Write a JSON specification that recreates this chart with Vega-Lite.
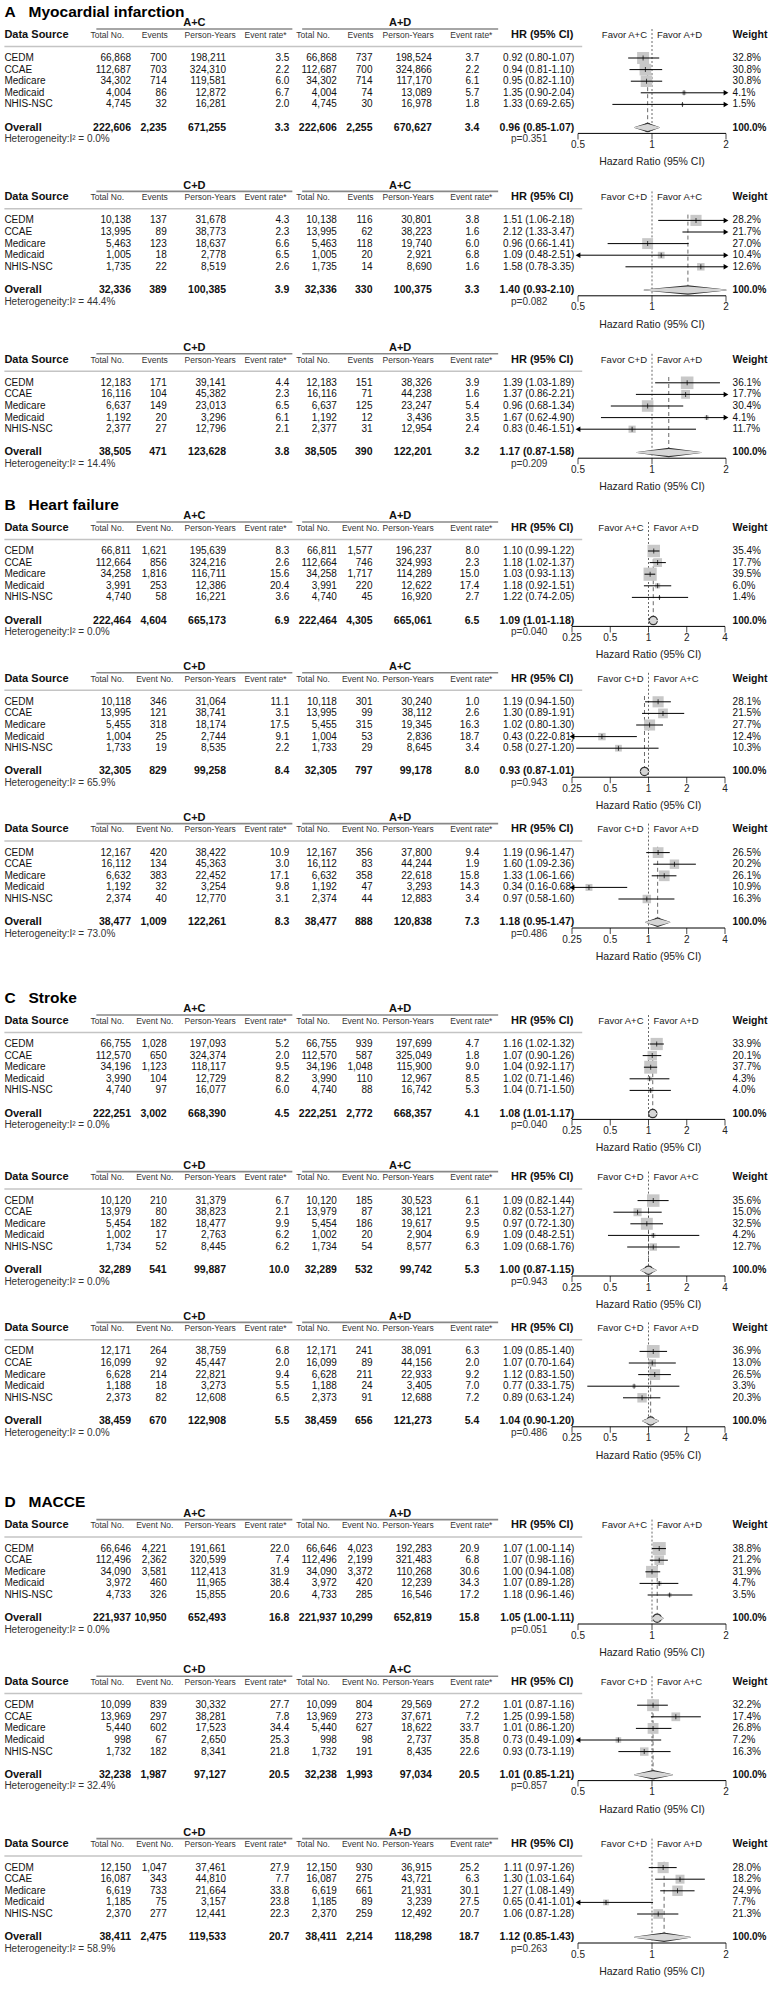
{
"$schema":"https://vega.github.io/schema/vega-lite/v6.json",
"padding":0,
"background":"white",
"width":769,
"height":1985,
"config":{"view":{"stroke":null},"axis":{"disable":true},"text":{"font":"Liberation Sans, Arial, sans-serif","fontSize":10,"color":"#111"}},
"datasets":{
"all":[
{"p":"A1","g1":"A+C","g2":"A+D","i2":0,"pv":0.351,"ev":"Events","tk":[0.5,1,2],"ttl":"A\u00a0\u00a0 Myocardial infarction"},
{"p":"A2","g1":"C+D","g2":"A+C","i2":44.4,"pv":0.082,"ev":"Events","tk":[0.5,1,2]},
{"p":"A3","g1":"C+D","g2":"A+D","i2":14.4,"pv":0.209,"ev":"Events","tk":[0.5,1,2]},
{"p":"B1","g1":"A+C","g2":"A+D","i2":0,"pv":0.04,"ev":"Event No.","tk":[0.25,0.5,1,2,4],"ttl":"B\u00a0\u00a0 Heart failure"},
{"p":"B2","g1":"C+D","g2":"A+C","i2":65.9,"pv":0.943,"ev":"Event No.","tk":[0.25,0.5,1,2,4]},
{"p":"B3","g1":"C+D","g2":"A+D","i2":73.0,"pv":0.486,"ev":"Event No.","tk":[0.25,0.5,1,2,4]},
{"p":"C1","g1":"A+C","g2":"A+D","i2":0,"pv":0.04,"ev":"Event No.","tk":[0.25,0.5,1,2,4],"ttl":"C\u00a0\u00a0 Stroke"},
{"p":"C2","g1":"C+D","g2":"A+C","i2":0,"pv":0.943,"ev":"Event No.","tk":[0.25,0.5,1,2,4]},
{"p":"C3","g1":"C+D","g2":"A+D","i2":0,"pv":0.486,"ev":"Event No.","tk":[0.25,0.5,1,2,4]},
{"p":"D1","g1":"A+C","g2":"A+D","i2":0,"pv":0.051,"ev":"Event No.","tk":[0.5,1,2],"ttl":"D\u00a0\u00a0 MACCE"},
{"p":"D2","g1":"C+D","g2":"A+C","i2":32.4,"pv":0.857,"ev":"Event No.","tk":[0.5,1,2]},
{"p":"D3","g1":"C+D","g2":"A+D","i2":58.9,"pv":0.263,"ev":"Event No.","tk":[0.5,1,2]},
{"p":"A1","s":"CEDM","t1":66868,"e1":700,"y1":198211,"r1":3.5,"t2":66868,"e2":737,"y2":198524,"r2":3.7,"hr":0.92,"lo":0.8,"hi":1.07,"w":0.328},
{"p":"A1","s":"CCAE","t1":112687,"e1":703,"y1":324310,"r1":2.2,"t2":112687,"e2":700,"y2":324866,"r2":2.2,"hr":0.94,"lo":0.81,"hi":1.1,"w":0.308},
{"p":"A1","s":"Medicare","t1":34302,"e1":714,"y1":119581,"r1":6.0,"t2":34302,"e2":714,"y2":117170,"r2":6.1,"hr":0.95,"lo":0.82,"hi":1.1,"w":0.308},
{"p":"A1","s":"Medicaid","t1":4004,"e1":86,"y1":12872,"r1":6.7,"t2":4004,"e2":74,"y2":13089,"r2":5.7,"hr":1.35,"lo":0.9,"hi":2.04,"w":0.041},
{"p":"A1","s":"NHIS-NSC","t1":4745,"e1":32,"y1":16281,"r1":2.0,"t2":4745,"e2":30,"y2":16978,"r2":1.8,"hr":1.33,"lo":0.69,"hi":2.65,"w":0.015},
{"p":"A1","s":"Overall","t1":222606,"e1":2235,"y1":671255,"r1":3.3,"t2":222606,"e2":2255,"y2":670627,"r2":3.4,"hr":0.96,"lo":0.85,"hi":1.07,"w":1},
{"p":"A2","s":"CEDM","t1":10138,"e1":137,"y1":31678,"r1":4.3,"t2":10138,"e2":116,"y2":30801,"r2":3.8,"hr":1.51,"lo":1.06,"hi":2.18,"w":0.282},
{"p":"A2","s":"CCAE","t1":13995,"e1":89,"y1":38773,"r1":2.3,"t2":13995,"e2":62,"y2":38223,"r2":1.6,"hr":2.12,"lo":1.33,"hi":3.47,"w":0.217},
{"p":"A2","s":"Medicare","t1":5463,"e1":123,"y1":18637,"r1":6.6,"t2":5463,"e2":118,"y2":19740,"r2":6.0,"hr":0.96,"lo":0.66,"hi":1.41,"w":0.27},
{"p":"A2","s":"Medicaid","t1":1005,"e1":18,"y1":2778,"r1":6.5,"t2":1005,"e2":20,"y2":2921,"r2":6.8,"hr":1.09,"lo":0.48,"hi":2.51,"w":0.104},
{"p":"A2","s":"NHIS-NSC","t1":1735,"e1":22,"y1":8519,"r1":2.6,"t2":1735,"e2":14,"y2":8690,"r2":1.6,"hr":1.58,"lo":0.78,"hi":3.35,"w":0.126},
{"p":"A2","s":"Overall","t1":32336,"e1":389,"y1":100385,"r1":3.9,"t2":32336,"e2":330,"y2":100375,"r2":3.3,"hr":1.4,"lo":0.93,"hi":2.1,"w":1},
{"p":"A3","s":"CEDM","t1":12183,"e1":171,"y1":39141,"r1":4.4,"t2":12183,"e2":151,"y2":38326,"r2":3.9,"hr":1.39,"lo":1.03,"hi":1.89,"w":0.361},
{"p":"A3","s":"CCAE","t1":16116,"e1":104,"y1":45382,"r1":2.3,"t2":16116,"e2":71,"y2":44238,"r2":1.6,"hr":1.37,"lo":0.86,"hi":2.21,"w":0.177},
{"p":"A3","s":"Medicare","t1":6637,"e1":149,"y1":23013,"r1":6.5,"t2":6637,"e2":125,"y2":23247,"r2":5.4,"hr":0.96,"lo":0.68,"hi":1.34,"w":0.304},
{"p":"A3","s":"Medicaid","t1":1192,"e1":20,"y1":3296,"r1":6.1,"t2":1192,"e2":12,"y2":3436,"r2":3.5,"hr":1.67,"lo":0.62,"hi":4.9,"w":0.041},
{"p":"A3","s":"NHIS-NSC","t1":2377,"e1":27,"y1":12796,"r1":2.1,"t2":2377,"e2":31,"y2":12954,"r2":2.4,"hr":0.83,"lo":0.46,"hi":1.51,"w":0.117},
{"p":"A3","s":"Overall","t1":38505,"e1":471,"y1":123628,"r1":3.8,"t2":38505,"e2":390,"y2":122201,"r2":3.2,"hr":1.17,"lo":0.87,"hi":1.58,"w":1},
{"p":"B1","s":"CEDM","t1":66811,"e1":1621,"y1":195639,"r1":8.3,"t2":66811,"e2":1577,"y2":196237,"r2":8.0,"hr":1.1,"lo":0.99,"hi":1.22,"w":0.354},
{"p":"B1","s":"CCAE","t1":112664,"e1":856,"y1":324216,"r1":2.6,"t2":112664,"e2":746,"y2":324993,"r2":2.3,"hr":1.18,"lo":1.02,"hi":1.37,"w":0.177},
{"p":"B1","s":"Medicare","t1":34258,"e1":1816,"y1":116711,"r1":15.6,"t2":34258,"e2":1717,"y2":114289,"r2":15.0,"hr":1.03,"lo":0.93,"hi":1.13,"w":0.395},
{"p":"B1","s":"Medicaid","t1":3991,"e1":253,"y1":12386,"r1":20.4,"t2":3991,"e2":220,"y2":12622,"r2":17.4,"hr":1.18,"lo":0.92,"hi":1.51,"w":0.06},
{"p":"B1","s":"NHIS-NSC","t1":4740,"e1":58,"y1":16221,"r1":3.6,"t2":4740,"e2":45,"y2":16920,"r2":2.7,"hr":1.22,"lo":0.74,"hi":2.05,"w":0.014},
{"p":"B1","s":"Overall","t1":222464,"e1":4604,"y1":665173,"r1":6.9,"t2":222464,"e2":4305,"y2":665061,"r2":6.5,"hr":1.09,"lo":1.01,"hi":1.18,"w":1},
{"p":"B2","s":"CEDM","t1":10118,"e1":346,"y1":31064,"r1":11.1,"t2":10118,"e2":301,"y2":30240,"r2":1.0,"hr":1.19,"lo":0.94,"hi":1.5,"w":0.281},
{"p":"B2","s":"CCAE","t1":13995,"e1":121,"y1":38741,"r1":3.1,"t2":13995,"e2":99,"y2":38112,"r2":2.6,"hr":1.3,"lo":0.89,"hi":1.91,"w":0.215},
{"p":"B2","s":"Medicare","t1":5455,"e1":318,"y1":18174,"r1":17.5,"t2":5455,"e2":315,"y2":19345,"r2":16.3,"hr":1.02,"lo":0.8,"hi":1.3,"w":0.277},
{"p":"B2","s":"Medicaid","t1":1004,"e1":25,"y1":2744,"r1":9.1,"t2":1004,"e2":53,"y2":2836,"r2":18.7,"hr":0.43,"lo":0.22,"hi":0.81,"w":0.124},
{"p":"B2","s":"NHIS-NSC","t1":1733,"e1":19,"y1":8535,"r1":2.2,"t2":1733,"e2":29,"y2":8645,"r2":3.4,"hr":0.58,"lo":0.27,"hi":1.2,"w":0.103},
{"p":"B2","s":"Overall","t1":32305,"e1":829,"y1":99258,"r1":8.4,"t2":32305,"e2":797,"y2":99178,"r2":8.0,"hr":0.93,"lo":0.87,"hi":1.01,"w":1},
{"p":"B3","s":"CEDM","t1":12167,"e1":420,"y1":38422,"r1":10.9,"t2":12167,"e2":356,"y2":37800,"r2":9.4,"hr":1.19,"lo":0.96,"hi":1.47,"w":0.265},
{"p":"B3","s":"CCAE","t1":16112,"e1":134,"y1":45363,"r1":3.0,"t2":16112,"e2":83,"y2":44244,"r2":1.9,"hr":1.6,"lo":1.09,"hi":2.36,"w":0.202},
{"p":"B3","s":"Medicare","t1":6632,"e1":383,"y1":22452,"r1":17.1,"t2":6632,"e2":358,"y2":22618,"r2":15.8,"hr":1.33,"lo":1.06,"hi":1.66,"w":0.261},
{"p":"B3","s":"Medicaid","t1":1192,"e1":32,"y1":3254,"r1":9.8,"t2":1192,"e2":47,"y2":3293,"r2":14.3,"hr":0.34,"lo":0.16,"hi":0.68,"w":0.109},
{"p":"B3","s":"NHIS-NSC","t1":2374,"e1":40,"y1":12770,"r1":3.1,"t2":2374,"e2":44,"y2":12883,"r2":3.4,"hr":0.97,"lo":0.58,"hi":1.6,"w":0.163},
{"p":"B3","s":"Overall","t1":38477,"e1":1009,"y1":122261,"r1":8.3,"t2":38477,"e2":888,"y2":120838,"r2":7.3,"hr":1.18,"lo":0.95,"hi":1.47,"w":1},
{"p":"C1","s":"CEDM","t1":66755,"e1":1028,"y1":197093,"r1":5.2,"t2":66755,"e2":939,"y2":197699,"r2":4.7,"hr":1.16,"lo":1.02,"hi":1.32,"w":0.339},
{"p":"C1","s":"CCAE","t1":112570,"e1":650,"y1":324374,"r1":2.0,"t2":112570,"e2":587,"y2":325049,"r2":1.8,"hr":1.07,"lo":0.9,"hi":1.26,"w":0.201},
{"p":"C1","s":"Medicare","t1":34196,"e1":1123,"y1":118117,"r1":9.5,"t2":34196,"e2":1048,"y2":115900,"r2":9.0,"hr":1.04,"lo":0.92,"hi":1.17,"w":0.377},
{"p":"C1","s":"Medicaid","t1":3990,"e1":104,"y1":12729,"r1":8.2,"t2":3990,"e2":110,"y2":12967,"r2":8.5,"hr":1.02,"lo":0.71,"hi":1.46,"w":0.043},
{"p":"C1","s":"NHIS-NSC","t1":4740,"e1":97,"y1":16077,"r1":6.0,"t2":4740,"e2":88,"y2":16742,"r2":5.3,"hr":1.04,"lo":0.71,"hi":1.5,"w":0.04},
{"p":"C1","s":"Overall","t1":222251,"e1":3002,"y1":668390,"r1":4.5,"t2":222251,"e2":2772,"y2":668357,"r2":4.1,"hr":1.08,"lo":1.01,"hi":1.17,"w":1},
{"p":"C2","s":"CEDM","t1":10120,"e1":210,"y1":31379,"r1":6.7,"t2":10120,"e2":185,"y2":30523,"r2":6.1,"hr":1.09,"lo":0.82,"hi":1.44,"w":0.356},
{"p":"C2","s":"CCAE","t1":13979,"e1":80,"y1":38823,"r1":2.1,"t2":13979,"e2":87,"y2":38121,"r2":2.3,"hr":0.82,"lo":0.53,"hi":1.27,"w":0.15},
{"p":"C2","s":"Medicare","t1":5454,"e1":182,"y1":18477,"r1":9.9,"t2":5454,"e2":186,"y2":19617,"r2":9.5,"hr":0.97,"lo":0.72,"hi":1.3,"w":0.325},
{"p":"C2","s":"Medicaid","t1":1002,"e1":17,"y1":2763,"r1":6.2,"t2":1002,"e2":20,"y2":2904,"r2":6.9,"hr":1.09,"lo":0.48,"hi":2.51,"w":0.042},
{"p":"C2","s":"NHIS-NSC","t1":1734,"e1":52,"y1":8445,"r1":6.2,"t2":1734,"e2":54,"y2":8577,"r2":6.3,"hr":1.09,"lo":0.68,"hi":1.76,"w":0.127},
{"p":"C2","s":"Overall","t1":32289,"e1":541,"y1":99887,"r1":10.0,"t2":32289,"e2":532,"y2":99742,"r2":5.3,"hr":1.0,"lo":0.87,"hi":1.15,"w":1},
{"p":"C3","s":"CEDM","t1":12171,"e1":264,"y1":38759,"r1":6.8,"t2":12171,"e2":241,"y2":38091,"r2":6.3,"hr":1.09,"lo":0.85,"hi":1.4,"w":0.369},
{"p":"C3","s":"CCAE","t1":16099,"e1":92,"y1":45447,"r1":2.0,"t2":16099,"e2":89,"y2":44156,"r2":2.0,"hr":1.07,"lo":0.7,"hi":1.64,"w":0.13},
{"p":"C3","s":"Medicare","t1":6628,"e1":214,"y1":22821,"r1":9.4,"t2":6628,"e2":211,"y2":22933,"r2":9.2,"hr":1.12,"lo":0.83,"hi":1.5,"w":0.265},
{"p":"C3","s":"Medicaid","t1":1188,"e1":18,"y1":3273,"r1":5.5,"t2":1188,"e2":24,"y2":3405,"r2":7.0,"hr":0.77,"lo":0.33,"hi":1.75,"w":0.033},
{"p":"C3","s":"NHIS-NSC","t1":2373,"e1":82,"y1":12608,"r1":6.5,"t2":2373,"e2":91,"y2":12688,"r2":7.2,"hr":0.89,"lo":0.63,"hi":1.24,"w":0.203},
{"p":"C3","s":"Overall","t1":38459,"e1":670,"y1":122908,"r1":5.5,"t2":38459,"e2":656,"y2":121273,"r2":5.4,"hr":1.04,"lo":0.9,"hi":1.2,"w":1},
{"p":"D1","s":"CEDM","t1":66646,"e1":4221,"y1":191661,"r1":22.0,"t2":66646,"e2":4023,"y2":192283,"r2":20.9,"hr":1.07,"lo":1.0,"hi":1.14,"w":0.388},
{"p":"D1","s":"CCAE","t1":112496,"e1":2362,"y1":320599,"r1":7.4,"t2":112496,"e2":2199,"y2":321483,"r2":6.8,"hr":1.07,"lo":0.98,"hi":1.16,"w":0.212},
{"p":"D1","s":"Medicare","t1":34090,"e1":3581,"y1":112413,"r1":31.9,"t2":34090,"e2":3372,"y2":110268,"r2":30.6,"hr":1.0,"lo":0.94,"hi":1.08,"w":0.319},
{"p":"D1","s":"Medicaid","t1":3972,"e1":460,"y1":11965,"r1":38.4,"t2":3972,"e2":420,"y2":12239,"r2":34.3,"hr":1.07,"lo":0.89,"hi":1.28,"w":0.047},
{"p":"D1","s":"NHIS-NSC","t1":4733,"e1":326,"y1":15855,"r1":20.6,"t2":4733,"e2":285,"y2":16546,"r2":17.2,"hr":1.18,"lo":0.96,"hi":1.46,"w":0.035},
{"p":"D1","s":"Overall","t1":221937,"e1":10950,"y1":652493,"r1":16.8,"t2":221937,"e2":10299,"y2":652819,"r2":15.8,"hr":1.05,"lo":1.0,"hi":1.11,"w":1},
{"p":"D2","s":"CEDM","t1":10099,"e1":839,"y1":30332,"r1":27.7,"t2":10099,"e2":804,"y2":29569,"r2":27.2,"hr":1.01,"lo":0.87,"hi":1.16,"w":0.322},
{"p":"D2","s":"CCAE","t1":13969,"e1":297,"y1":38281,"r1":7.8,"t2":13969,"e2":273,"y2":37671,"r2":7.2,"hr":1.25,"lo":0.99,"hi":1.58,"w":0.174},
{"p":"D2","s":"Medicare","t1":5440,"e1":602,"y1":17523,"r1":34.4,"t2":5440,"e2":627,"y2":18622,"r2":33.7,"hr":1.01,"lo":0.86,"hi":1.2,"w":0.268},
{"p":"D2","s":"Medicaid","t1":998,"e1":67,"y1":2650,"r1":25.3,"t2":998,"e2":98,"y2":2737,"r2":35.8,"hr":0.73,"lo":0.49,"hi":1.09,"w":0.072},
{"p":"D2","s":"NHIS-NSC","t1":1732,"e1":182,"y1":8341,"r1":21.8,"t2":1732,"e2":191,"y2":8435,"r2":22.6,"hr":0.93,"lo":0.73,"hi":1.19,"w":0.163},
{"p":"D2","s":"Overall","t1":32238,"e1":1987,"y1":97127,"r1":20.5,"t2":32238,"e2":1993,"y2":97034,"r2":20.5,"hr":1.01,"lo":0.85,"hi":1.21,"w":1},
{"p":"D3","s":"CEDM","t1":12150,"e1":1047,"y1":37461,"r1":27.9,"t2":12150,"e2":930,"y2":36915,"r2":25.2,"hr":1.11,"lo":0.97,"hi":1.26,"w":0.28},
{"p":"D3","s":"CCAE","t1":16087,"e1":343,"y1":44810,"r1":7.7,"t2":16087,"e2":275,"y2":43721,"r2":6.3,"hr":1.3,"lo":1.03,"hi":1.64,"w":0.182},
{"p":"D3","s":"Medicare","t1":6619,"e1":733,"y1":21664,"r1":33.8,"t2":6619,"e2":661,"y2":21931,"r2":30.1,"hr":1.27,"lo":1.08,"hi":1.49,"w":0.249},
{"p":"D3","s":"Medicaid","t1":1185,"e1":75,"y1":3157,"r1":23.8,"t2":1185,"e2":89,"y2":3239,"r2":27.5,"hr":0.65,"lo":0.41,"hi":1.01,"w":0.077},
{"p":"D3","s":"NHIS-NSC","t1":2370,"e1":277,"y1":12441,"r1":22.3,"t2":2370,"e2":259,"y2":12492,"r2":20.7,"hr":1.06,"lo":0.87,"hi":1.28,"w":0.213},
{"p":"D3","s":"Overall","t1":38411,"e1":2475,"y1":119533,"r1":20.7,"t2":38411,"e2":2214,"y2":118298,"r2":18.7,"hr":1.12,"lo":0.85,"hi":1.43,"w":1}
]},
"data":{"name":"all"},
"resolve":{"scale":{"x":"independent"}},
"layer":[
{"layer":[
{"transform":[{"filter":"datum.ttl"},{"calculate":"datum.p+'|ttl'","as":"yk"}],"mark":{"type":"text","align":"left","fontSize":15.5,"fontWeight":"bold","color":"#000"},"encoding":{"x":{"datum":"_0","scale":{"type":"point","padding":0,"range":[4.4,732.6],"domain":["_0","_1","_2","_3","_4","_5","_6","_7","_8","_9","_10","_11","_12","_13","_14","_15","t1","_17","_18","_19","e1","_21","_22","_23","g1","_25","_26","_27","y1","_29","_30","_31","_32","_33","_34","_35","r1","_37","_38","_39","_40","_41","t2","_43","_44","_45","e2","_47","_48","_49","g2","_51","_52","_53","y2","_55","_56","_57","_58","_59","r2","_61","_62","_63","_64","_65","_66","_67","_68","_69","_70","_71","_72","_73","_74","_75","_76","_77","_78","_79","_80","_81","_82","_83","_84","_85","_86","_87","_88","_89","_90","_91","_92"]}},"y":{"field":"yk","type":"nominal","scale":{"type":"point","padding":0,"range":[0,1972],"domain":[
"_0","_1","A1|ttl","_3","A1|grp","A1|ul","A1|hdr","_7","A1|sep","A1|top",
"A1|CEDM","_11","A1|CCAE","_13","A1|Medicare","_15","A1|Medicaid","_17","A1|NHIS-NSC","_19",
"_20","_21","A1|Overall","A1|ax","A1|Het","A1|tk","_26","_27","A1|hrt","_29",
"_30","_31","A2|grp","A2|ul","A2|hdr","_35","A2|sep","A2|top","A2|CEDM","_39",
"A2|CCAE","_41","A2|Medicare","_43","A2|Medicaid","_45","A2|NHIS-NSC","_47","_48","_49",
"A2|Overall","A2|ax","A2|Het","A2|tk","_54","_55","A2|hrt","_57","_58","_59",
"A3|grp","A3|ul","A3|hdr","_63","A3|sep","A3|top","A3|CEDM","_67","A3|CCAE","_69",
"A3|Medicare","_71","A3|Medicaid","_73","A3|NHIS-NSC","_75","_76","_77","A3|Overall","A3|ax",
"A3|Het","A3|tk","_82","_83","A3|hrt","_85","_86","B1|ttl","_88","B1|grp",
"B1|ul","B1|hdr","_92","B1|sep","B1|top","B1|CEDM","_96","B1|CCAE","_98","B1|Medicare",
"_100","B1|Medicaid","_102","B1|NHIS-NSC","_104","_105","_106","B1|Overall","B1|ax","B1|Het",
"B1|tk","_111","_112","B1|hrt","_114","B2|grp","B2|ul","B2|hdr","_118","B2|sep",
"B2|top","B2|CEDM","_122","B2|CCAE","_124","B2|Medicare","_126","B2|Medicaid","_128","B2|NHIS-NSC",
"_130","_131","_132","B2|Overall","B2|ax","B2|Het","B2|tk","_137","_138","B2|hrt",
"_140","B3|grp","B3|ul","B3|hdr","_144","B3|sep","B3|top","B3|CEDM","_148","B3|CCAE",
"_150","B3|Medicare","_152","B3|Medicaid","_154","B3|NHIS-NSC","_156","_157","_158","B3|Overall",
"B3|ax","B3|Het","B3|tk","_163","_164","B3|hrt","_166","_167","_168","_169",
"_170","_171","C1|ttl","_173","C1|grp","C1|ul","C1|hdr","_177","C1|sep","C1|top",
"C1|CEDM","_181","C1|CCAE","_183","C1|Medicare","_185","C1|Medicaid","_187","C1|NHIS-NSC","_189",
"_190","_191","C1|Overall","C1|ax","C1|Het","C1|tk","_196","_197","C1|hrt","_199",
"_200","C2|grp","C2|ul","C2|hdr","_204","C2|sep","C2|top","C2|CEDM","_208","C2|CCAE",
"_210","C2|Medicare","_212","C2|Medicaid","_214","C2|NHIS-NSC","_216","_217","_218","C2|Overall",
"C2|ax","C2|Het","C2|tk","_223","_224","C2|hrt","_226","C3|grp","C3|ul","C3|hdr",
"_230","C3|sep","C3|top","C3|CEDM","_234","C3|CCAE","_236","C3|Medicare","_238","C3|Medicaid",
"_240","C3|NHIS-NSC","_242","_243","_244","C3|Overall","C3|ax","C3|Het","C3|tk","_249",
"_250","C3|hrt","_252","_253","_254","_255","_256","_257","_258","D1|ttl",
"_260","D1|grp","D1|ul","D1|hdr","_264","D1|sep","D1|top","D1|CEDM","_268","D1|CCAE",
"_270","D1|Medicare","_272","D1|Medicaid","_274","D1|NHIS-NSC","_276","_277","_278","D1|Overall",
"D1|ax","D1|Het","D1|tk","_283","_284","D1|hrt","_286","_287","D2|grp","D2|ul",
"D2|hdr","_291","D2|sep","D2|top","D2|CEDM","_295","D2|CCAE","_297","D2|Medicare","_299",
"D2|Medicaid","_301","D2|NHIS-NSC","_303","_304","_305","D2|Overall","D2|ax","D2|Het","D2|tk",
"_310","_311","D2|hrt","_313","_314","_315","D3|grp","D3|ul","D3|hdr","_319",
"D3|sep","D3|top","D3|CEDM","_323","D3|CCAE","_325","D3|Medicare","_327","D3|Medicaid","_329",
"D3|NHIS-NSC","_331","_332","_333","D3|Overall","D3|ax","D3|Het","D3|tk","_338","_339",
"D3|hrt"]}},"text":{"field":"ttl"}}},
{"transform":[{"filter":"datum.g1"},{"fold":["g1","g2"]},{"calculate":"datum.p+'|grp'","as":"yk"},{"calculate":"datum.p+'|ul'","as":"yu"}],"layer":[
{"mark":{"type":"text","fontWeight":"bold","fontSize":11},"encoding":{"x":{"field":"key","type":"nominal"},"y":{"field":"yk","type":"nominal"},"text":{"field":"value"}}},
{"mark":{"type":"tick","orient":"horizontal","size":196,"thickness":1.6,"color":"#555"},"encoding":{"x":{"field":"key","type":"nominal"},"y":{"field":"yu","type":"nominal"}}}]},
{"transform":[{"filter":"datum.g1"},{"calculate":"datum.p+'|hdr'","as":"yk"}],"layer":[
{"transform":[{"fold":["_13","_39"]}],"mark":{"type":"text","fontSize":8.5,"color":"#333"},"encoding":{"x":{"field":"key","type":"nominal"},"y":{"field":"yk","type":"nominal"},"text":{"value":"Total No."}}},
{"transform":[{"fold":["_19","_45"]}],"mark":{"type":"text","fontSize":8.5,"color":"#333"},"encoding":{"x":{"field":"key","type":"nominal"},"y":{"field":"yk","type":"nominal"},"text":{"field":"ev"}}},
{"transform":[{"fold":["_26","_51"]}],"mark":{"type":"text","fontSize":8.5,"color":"#333"},"encoding":{"x":{"field":"key","type":"nominal"},"y":{"field":"yk","type":"nominal"},"text":{"value":"Person-Years"}}},
{"transform":[{"fold":["_33","_59"]}],"mark":{"type":"text","fontSize":8.5,"color":"#333"},"encoding":{"x":{"field":"key","type":"nominal"},"y":{"field":"yk","type":"nominal"},"text":{"value":"Event rate*"}}},
{"mark":{"type":"text","align":"left","fontSize":11,"fontWeight":"bold"},"encoding":{"x":{"datum":"_0"},"y":{"field":"yk","type":"nominal"},"text":{"value":"Data Source"}}},
{"mark":{"type":"text","align":"left","fontSize":11,"fontWeight":"bold"},"encoding":{"x":{"datum":"_64"},"y":{"field":"yk","type":"nominal"},"text":{"value":"HR (95% CI)"}}},
{"mark":{"type":"text","align":"left","fontSize":10.5,"fontWeight":"bold"},"encoding":{"x":{"datum":"_92"},"y":{"field":"yk","type":"nominal"},"text":{"value":"Weight"}}}]},
{"transform":[{"filter":"datum.g1"},{"calculate":"datum.p+'|sep'","as":"yk"},{"calculate":"datum.p+'|Het'","as":"yh"},{"calculate":"'Heterogeneity:I\u00b2 = '+format(datum.i2,'.1f')+'%'","as":"ht"},{"calculate":"'p='+format(datum.pv,'.3f')","as":"pt"}],"layer":[
{"mark":{"type":"rule","color":"#c4c4c4","strokeWidth":1.5},"encoding":{"x":{"datum":"_0"},"x2":{"datum":"_73"},"y":{"field":"yk","type":"nominal"}}},
{"mark":{"type":"text","align":"left","fontSize":10,"color":"#333"},"encoding":{"x":{"datum":"_0"},"y":{"field":"yh","type":"nominal"},"text":{"field":"ht"}}},
{"mark":{"type":"text","align":"left","fontSize":10,"color":"#333"},"encoding":{"x":{"datum":"_64"},"y":{"field":"yh","type":"nominal"},"text":{"field":"pt"}}}]},
{"transform":[{"filter":"datum.s && datum.s!='Overall'"},{"calculate":"datum.p+'|'+datum.s","as":"yk"},{"calculate":"format(datum.hr,'.2f')+' ('+format(datum.lo,'.2f')+'-'+format(datum.hi,'.2f')+')'","as":"hrt"}],"layer":[
{"mark":{"type":"text","align":"left"},"encoding":{"x":{"datum":"_0"},"y":{"field":"yk","type":"nominal"},"text":{"field":"s"}}},
{"transform":[{"fold":["t1","y1","t2","y2"]}],"mark":{"type":"text","align":"right"},"encoding":{"x":{"field":"key","type":"nominal"},"y":{"field":"yk","type":"nominal"},"text":{"field":"value","type":"quantitative","format":","}}},
{"transform":[{"fold":["e1","e2"]}],"mark":{"type":"text","align":"right","dx":4},"encoding":{"x":{"field":"key","type":"nominal"},"y":{"field":"yk","type":"nominal"},"text":{"field":"value","type":"quantitative","format":","}}},
{"transform":[{"fold":["r1","r2"]}],"mark":{"type":"text","align":"right"},"encoding":{"x":{"field":"key","type":"nominal"},"y":{"field":"yk","type":"nominal"},"text":{"field":"value","type":"quantitative","format":".1f"}}},
{"mark":{"type":"text","align":"right"},"encoding":{"x":{"datum":"_72"},"y":{"field":"yk","type":"nominal"},"text":{"field":"hrt"}}},
{"mark":{"type":"text","align":"left"},"encoding":{"x":{"datum":"_92"},"y":{"field":"yk","type":"nominal"},"text":{"field":"w","type":"quantitative","format":".1%"}}}]},
{"transform":[{"filter":"datum.s=='Overall'"},{"calculate":"datum.p+'|'+datum.s","as":"yk"},{"calculate":"format(datum.hr,'.2f')+' ('+format(datum.lo,'.2f')+'-'+format(datum.hi,'.2f')+')'","as":"hrt"}],"layer":[
{"mark":{"type":"text","align":"left","fontWeight":"bold","fontSize":11},"encoding":{"x":{"datum":"_0"},"y":{"field":"yk","type":"nominal"},"text":{"field":"s"}}},
{"transform":[{"fold":["t1","y1","t2","y2"]}],"mark":{"type":"text","align":"right","fontWeight":"bold","fontSize":10.5},"encoding":{"x":{"field":"key","type":"nominal"},"y":{"field":"yk","type":"nominal"},"text":{"field":"value","type":"quantitative","format":","}}},
{"transform":[{"fold":["e1","e2"]}],"mark":{"type":"text","align":"right","dx":4,"fontWeight":"bold","fontSize":10.5},"encoding":{"x":{"field":"key","type":"nominal"},"y":{"field":"yk","type":"nominal"},"text":{"field":"value","type":"quantitative","format":","}}},
{"transform":[{"fold":["r1","r2"]}],"mark":{"type":"text","align":"right","fontWeight":"bold","fontSize":10.5},"encoding":{"x":{"field":"key","type":"nominal"},"y":{"field":"yk","type":"nominal"},"text":{"field":"value","type":"quantitative","format":".1f"}}},
{"mark":{"type":"text","align":"right","fontWeight":"bold","fontSize":10.5},"encoding":{"x":{"datum":"_72"},"y":{"field":"yk","type":"nominal"},"text":{"field":"hrt"}}},
{"mark":{"type":"text","align":"left","fontWeight":"bold","fontSize":10},"encoding":{"x":{"datum":"_92"},"y":{"field":"yk","type":"nominal"},"text":{"field":"w","type":"quantitative","format":".1%"}}}]}
]},
{"transform":[{"filter":"test(/^[AD]/,datum.p)"}],"layer":[
{"transform":[{"filter":"datum.g1"},{"calculate":"datum.p+'|ul'","as":"yk"},{"calculate":"datum.p+'|ax'","as":"yk2"}],"mark":{"type":"rule","strokeDash":[2,2],"color":"#444","strokeWidth":0.8},"encoding":{"x":{"datum":1,"scale":{"type":"log","domain":[0.5,2],"range":[578,726],"clamp":true}},"y":{"field":"yk","type":"nominal"},"y2":{"field":"yk2"}}},
{"transform":[{"filter":"datum.s=='Overall'"},{"calculate":"datum.p+'|top'","as":"yk"},{"calculate":"datum.p+'|Overall'","as":"yk2"}],"mark":{"type":"rule","strokeDash":[4,3],"color":"#444","strokeWidth":0.8},"encoding":{"x":{"field":"hr","type":"quantitative","scale":{"type":"log","domain":[0.5,2],"range":[578,726],"clamp":true}},"y":{"field":"yk","type":"nominal"},"y2":{"field":"yk2"}}},
{"transform":[{"filter":"datum.s && datum.s!='Overall'"},{"calculate":"datum.p+'|'+datum.s","as":"yk"}],"layer":[
{"transform":[{"filter":"datum.hr>=0.5 && datum.hr<=2"}],"mark":{"type":"point","shape":"square","filled":true,"color":"#c8c8c8","opacity":1},"encoding":{"x":{"field":"hr","type":"quantitative","scale":{"type":"log","domain":[0.5,2],"range":[578,726],"clamp":true}},"y":{"field":"yk","type":"nominal"},"size":{"field":"w","type":"quantitative","scale":{"domain":[0,1],"range":[0,440]},"legend":null}}},
{"mark":{"type":"rule","color":"#000","strokeWidth":1},"encoding":{"x":{"field":"lo","type":"quantitative","scale":{"type":"log","domain":[0.5,2],"range":[578,726],"clamp":true}},"x2":{"field":"hi"},"y":{"field":"yk","type":"nominal"}}},
{"transform":[{"filter":"datum.hr>=0.5 && datum.hr<=2"}],"mark":{"type":"tick","orient":"vertical","size":5,"thickness":1,"color":"#000"},"encoding":{"x":{"field":"hr","type":"quantitative","scale":{"type":"log","domain":[0.5,2],"range":[578,726],"clamp":true}},"y":{"field":"yk","type":"nominal"}}},
{"transform":[{"filter":"datum.hi>2"}],"mark":{"type":"point","shape":"triangle-right","filled":true,"color":"#000","size":30,"opacity":1},"encoding":{"x":{"field":"hi","type":"quantitative","scale":{"type":"log","domain":[0.5,2],"range":[578,726],"clamp":true}},"y":{"field":"yk","type":"nominal"}}},
{"transform":[{"filter":"datum.lo<0.5"}],"mark":{"type":"point","shape":"triangle-left","filled":true,"color":"#000","size":30,"opacity":1},"encoding":{"x":{"field":"lo","type":"quantitative","scale":{"type":"log","domain":[0.5,2],"range":[578,726],"clamp":true}},"y":{"field":"yk","type":"nominal"}}}]},
{"transform":[{"filter":"datum.s=='Overall'"},{"calculate":"datum.p+'|Overall'","as":"yk"},{"fold":["lo","hr","hi"]}],"layer":[
{"mark":{"type":"trail","color":"#333"},"encoding":{"x":{"field":"value","type":"quantitative","scale":{"type":"log","domain":[0.5,2],"range":[578,726],"clamp":true}},"y":{"field":"yk","type":"nominal"},"detail":{"field":"p"},"order":{"field":"value","type":"quantitative"},"size":{"condition":{"test":"datum.key=='hr'","value":9.5},"value":0}}},
{"mark":{"type":"trail","color":"#d6d6d6"},"encoding":{"x":{"field":"value","type":"quantitative","scale":{"type":"log","domain":[0.5,2],"range":[578,726],"clamp":true}},"y":{"field":"yk","type":"nominal"},"detail":{"field":"p"},"order":{"field":"value","type":"quantitative"},"size":{"condition":{"test":"datum.key=='hr'","value":7},"value":0}}}]},
{"transform":[{"filter":"datum.g1"},{"flatten":["tk"]}],"layer":[
{"transform":[{"aggregate":[{"op":"min","field":"tk","as":"a"},{"op":"max","field":"tk","as":"b"}],"groupby":["p"]},{"calculate":"datum.p+'|ax'","as":"yk"}],"mark":{"type":"rule","color":"#000","strokeWidth":1},"encoding":{"x":{"field":"a","type":"quantitative","scale":{"type":"log","domain":[0.5,2],"range":[578,726],"clamp":true}},"x2":{"field":"b"},"y":{"field":"yk","type":"nominal"}}},
{"transform":[{"calculate":"datum.p+'|ax'","as":"yk"}],"mark":{"type":"tick","orient":"vertical","size":6,"thickness":1,"color":"#000","yOffset":3},"encoding":{"x":{"field":"tk","type":"quantitative","scale":{"type":"log","domain":[0.5,2],"range":[578,726],"clamp":true}},"y":{"field":"yk","type":"nominal"}}},
{"transform":[{"calculate":"datum.p+'|tk'","as":"yk"}],"mark":{"type":"text","fontSize":10,"color":"#222"},"encoding":{"x":{"field":"tk","type":"quantitative","scale":{"type":"log","domain":[0.5,2],"range":[578,726],"clamp":true}},"y":{"field":"yk","type":"nominal"},"text":{"field":"tk","type":"quantitative"}}}]},
{"transform":[{"filter":"datum.g1"},{"calculate":"datum.p+'|hdr'","as":"yk"},{"calculate":"datum.p+'|hrt'","as":"yk2"},{"calculate":"'Favor '+datum.g1","as":"f1"},{"calculate":"'Favor '+datum.g2","as":"f2"}],"layer":[
{"mark":{"type":"text","align":"right","dx":-5,"fontSize":9.5,"color":"#222"},"encoding":{"x":{"datum":1,"scale":{"type":"log","domain":[0.5,2],"range":[578,726],"clamp":true}},"y":{"field":"yk","type":"nominal"},"text":{"field":"f1"}}},
{"mark":{"type":"text","align":"left","dx":5,"fontSize":9.5,"color":"#222"},"encoding":{"x":{"datum":1,"scale":{"type":"log","domain":[0.5,2],"range":[578,726],"clamp":true}},"y":{"field":"yk","type":"nominal"},"text":{"field":"f2"}}},
{"mark":{"type":"text","fontSize":10.5,"color":"#222"},"encoding":{"x":{"datum":1,"scale":{"type":"log","domain":[0.5,2],"range":[578,726],"clamp":true}},"y":{"field":"yk2","type":"nominal"},"text":{"value":"Hazard Ratio (95% CI)"}}}]}
]},
{"transform":[{"filter":"test(/^[BC]/,datum.p)"}],"layer":[
{"transform":[{"filter":"datum.g1"},{"calculate":"datum.p+'|ul'","as":"yk"},{"calculate":"datum.p+'|ax'","as":"yk2"}],"mark":{"type":"rule","strokeDash":[2,2],"color":"#444","strokeWidth":0.8},"encoding":{"x":{"datum":1,"scale":{"type":"log","domain":[0.25,4],"range":[572,725],"clamp":true}},"y":{"field":"yk","type":"nominal"},"y2":{"field":"yk2"}}},
{"transform":[{"filter":"datum.s=='Overall'"},{"calculate":"datum.p+'|top'","as":"yk"},{"calculate":"datum.p+'|Overall'","as":"yk2"}],"mark":{"type":"rule","strokeDash":[4,3],"color":"#444","strokeWidth":0.8},"encoding":{"x":{"field":"hr","type":"quantitative","scale":{"type":"log","domain":[0.25,4],"range":[572,725],"clamp":true}},"y":{"field":"yk","type":"nominal"},"y2":{"field":"yk2"}}},
{"transform":[{"filter":"datum.s && datum.s!='Overall'"},{"calculate":"datum.p+'|'+datum.s","as":"yk"}],"layer":[
{"transform":[{"filter":"datum.hr>=0.25 && datum.hr<=4"}],"mark":{"type":"point","shape":"square","filled":true,"color":"#c8c8c8","opacity":1},"encoding":{"x":{"field":"hr","type":"quantitative","scale":{"type":"log","domain":[0.25,4],"range":[572,725],"clamp":true}},"y":{"field":"yk","type":"nominal"},"size":{"field":"w","type":"quantitative","scale":{"domain":[0,1],"range":[0,440]},"legend":null}}},
{"mark":{"type":"rule","color":"#000","strokeWidth":1},"encoding":{"x":{"field":"lo","type":"quantitative","scale":{"type":"log","domain":[0.25,4],"range":[572,725],"clamp":true}},"x2":{"field":"hi"},"y":{"field":"yk","type":"nominal"}}},
{"transform":[{"filter":"datum.hr>=0.25 && datum.hr<=4"}],"mark":{"type":"tick","orient":"vertical","size":5,"thickness":1,"color":"#000"},"encoding":{"x":{"field":"hr","type":"quantitative","scale":{"type":"log","domain":[0.25,4],"range":[572,725],"clamp":true}},"y":{"field":"yk","type":"nominal"}}},
{"transform":[{"filter":"datum.hi>4"}],"mark":{"type":"point","shape":"triangle-right","filled":true,"color":"#000","size":30,"opacity":1},"encoding":{"x":{"field":"hi","type":"quantitative","scale":{"type":"log","domain":[0.25,4],"range":[572,725],"clamp":true}},"y":{"field":"yk","type":"nominal"}}},
{"transform":[{"filter":"datum.lo<0.25"}],"mark":{"type":"point","shape":"triangle-left","filled":true,"color":"#000","size":30,"opacity":1},"encoding":{"x":{"field":"lo","type":"quantitative","scale":{"type":"log","domain":[0.25,4],"range":[572,725],"clamp":true}},"y":{"field":"yk","type":"nominal"}}}]},
{"transform":[{"filter":"datum.s=='Overall'"},{"calculate":"datum.p+'|Overall'","as":"yk"},{"fold":["lo","hr","hi"]}],"layer":[
{"mark":{"type":"trail","color":"#333"},"encoding":{"x":{"field":"value","type":"quantitative","scale":{"type":"log","domain":[0.25,4],"range":[572,725],"clamp":true}},"y":{"field":"yk","type":"nominal"},"detail":{"field":"p"},"order":{"field":"value","type":"quantitative"},"size":{"condition":{"test":"datum.key=='hr'","value":9.5},"value":0}}},
{"mark":{"type":"trail","color":"#d6d6d6"},"encoding":{"x":{"field":"value","type":"quantitative","scale":{"type":"log","domain":[0.25,4],"range":[572,725],"clamp":true}},"y":{"field":"yk","type":"nominal"},"detail":{"field":"p"},"order":{"field":"value","type":"quantitative"},"size":{"condition":{"test":"datum.key=='hr'","value":7},"value":0}}}]},
{"transform":[{"filter":"datum.g1"},{"flatten":["tk"]}],"layer":[
{"transform":[{"aggregate":[{"op":"min","field":"tk","as":"a"},{"op":"max","field":"tk","as":"b"}],"groupby":["p"]},{"calculate":"datum.p+'|ax'","as":"yk"}],"mark":{"type":"rule","color":"#000","strokeWidth":1},"encoding":{"x":{"field":"a","type":"quantitative","scale":{"type":"log","domain":[0.25,4],"range":[572,725],"clamp":true}},"x2":{"field":"b"},"y":{"field":"yk","type":"nominal"}}},
{"transform":[{"calculate":"datum.p+'|ax'","as":"yk"}],"mark":{"type":"tick","orient":"vertical","size":6,"thickness":1,"color":"#000","yOffset":3},"encoding":{"x":{"field":"tk","type":"quantitative","scale":{"type":"log","domain":[0.25,4],"range":[572,725],"clamp":true}},"y":{"field":"yk","type":"nominal"}}},
{"transform":[{"calculate":"datum.p+'|tk'","as":"yk"}],"mark":{"type":"text","fontSize":10,"color":"#222"},"encoding":{"x":{"field":"tk","type":"quantitative","scale":{"type":"log","domain":[0.25,4],"range":[572,725],"clamp":true}},"y":{"field":"yk","type":"nominal"},"text":{"field":"tk","type":"quantitative"}}}]},
{"transform":[{"filter":"datum.g1"},{"calculate":"datum.p+'|hdr'","as":"yk"},{"calculate":"datum.p+'|hrt'","as":"yk2"},{"calculate":"'Favor '+datum.g1","as":"f1"},{"calculate":"'Favor '+datum.g2","as":"f2"}],"layer":[
{"mark":{"type":"text","align":"right","dx":-5,"fontSize":9.5,"color":"#222"},"encoding":{"x":{"datum":1,"scale":{"type":"log","domain":[0.25,4],"range":[572,725],"clamp":true}},"y":{"field":"yk","type":"nominal"},"text":{"field":"f1"}}},
{"mark":{"type":"text","align":"left","dx":5,"fontSize":9.5,"color":"#222"},"encoding":{"x":{"datum":1,"scale":{"type":"log","domain":[0.25,4],"range":[572,725],"clamp":true}},"y":{"field":"yk","type":"nominal"},"text":{"field":"f2"}}},
{"mark":{"type":"text","fontSize":10.5,"color":"#222"},"encoding":{"x":{"datum":1,"scale":{"type":"log","domain":[0.25,4],"range":[572,725],"clamp":true}},"y":{"field":"yk2","type":"nominal"},"text":{"value":"Hazard Ratio (95% CI)"}}}]}
]}
]
}
